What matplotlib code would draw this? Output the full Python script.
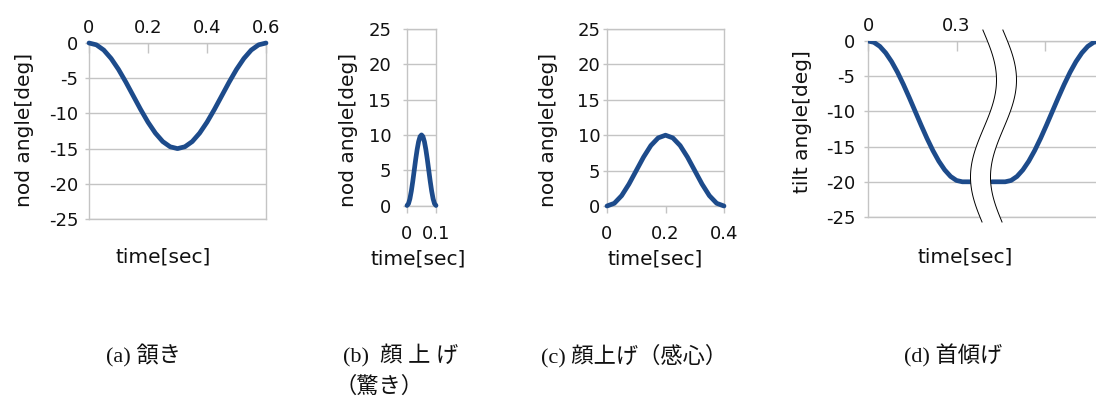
import numpy as np
import matplotlib
matplotlib.use("Agg")
import matplotlib.pyplot as plt
from matplotlib.patches import Polygon

# ---------------- data ----------------
# (a) nod
a_time = [0.0, 0.025, 0.05, 0.075, 0.1, 0.125, 0.15, 0.175, 0.2, 0.225, 0.25, 0.275, 0.3,
          0.325, 0.35, 0.375, 0.4, 0.425, 0.45, 0.475, 0.5, 0.525, 0.55, 0.575, 0.6]
a_angle = [0.0, -0.26, -1.0, -2.2, -3.75, -5.56, -7.5, -9.44, -11.25, -12.8, -14.0, -14.74, -15.0,
           -14.74, -14.0, -12.8, -11.25, -9.44, -7.5, -5.56, -3.75, -2.2, -1.0, -0.26, 0.0]
a_xticks = [0, 0.2, 0.4, 0.6]
a_xticklabels = ["0", "0.2", "0.4", "0.6"]

# (b) face up (surprise)
b_time = [0.0, 0.005, 0.01, 0.015, 0.02, 0.025, 0.03, 0.035, 0.04, 0.045, 0.05,
          0.055, 0.06, 0.065, 0.07, 0.075, 0.08, 0.085, 0.09, 0.095, 0.1]
b_angle = [0.0, 0.24, 0.95, 2.06, 3.45, 5.0, 6.55, 7.94, 9.05, 9.76, 10.0,
           9.76, 9.05, 7.94, 6.55, 5.0, 3.45, 2.06, 0.95, 0.24, 0.0]
b_xticks = [0, 0.1]
b_xticklabels = ["0", "0.1"]

# (c) face up (admiration)
c_time = [0.0, 0.025, 0.05, 0.075, 0.1, 0.125, 0.15, 0.175, 0.2,
          0.225, 0.25, 0.275, 0.3, 0.325, 0.35, 0.375, 0.4]
c_angle = [0.0, 0.38, 1.46, 3.09, 5.0, 6.91, 8.54, 9.62, 10.0,
           9.62, 8.54, 6.91, 5.0, 3.09, 1.46, 0.38, 0.0]
c_xticks = [0, 0.2, 0.4]
c_xticklabels = ["0", "0.2", "0.4"]

# (d) head tilt (axis broken between the two segments)
d_time1 = [0.0, 0.02, 0.04, 0.06, 0.08, 0.10, 0.12, 0.14, 0.16, 0.18, 0.20,
           0.22, 0.24, 0.26, 0.28, 0.30, 0.32, 0.35]
d_angle1 = [0.0, -0.19, -0.76, -1.69, -2.93, -4.44, -6.17, -8.05, -10.0, -11.95, -13.83,
            -15.56, -17.07, -18.31, -19.24, -19.81, -20.0, -20.0]
d_time2 = [0.42, 0.465, 0.485, 0.505, 0.525, 0.545, 0.565, 0.585, 0.605, 0.625, 0.645,
           0.665, 0.685, 0.705, 0.725, 0.745, 0.765, 0.785]
d_angle2 = [-20.0, -20.0, -19.81, -19.24, -18.31, -17.07, -15.56, -13.83, -11.95, -10.0, -8.05,
            -6.17, -4.44, -2.93, -1.69, -0.76, -0.19, 0.0]
d_xticks = [0, 0.3, 0.6]
d_xticklabels = ["0", "0.3", ""]

neg_yticks = [-25, -20, -15, -10, -5, 0]
pos_yticks = [0, 5, 10, 15, 20, 25]

captions = ["(a) 頷き", "(b)  顔 上 げ", "（驚き）", "(c) 顔上げ（感心）", "(d) 首傾げ"]

# ---------------- style ----------------
W, H = 1096, 398
LINE = "#1d4b8b"
GRID = "#c4c4c4"
TXT = "#111111"
TICK_FS = 13.0
LAB_FS = 14.5
LW = 3.4
plt.rcParams["font.family"] = ["DejaVu Sans"]

fig = plt.figure(figsize=(W / 100, H / 100), dpi=100)


def px_axes(x0, y0, x1, y1):
    return fig.add_axes([x0 / W, 1 - y1 / H, (x1 - x0) / W, (y1 - y0) / H])


def style(ax, yticks, ylim, xlim, xticks, xlabels, top, ypad, xpad):
    ax.set_xlim(*xlim)
    ax.set_ylim(*ylim)
    ax.set_yticks(yticks)
    ax.set_yticklabels([str(v) for v in yticks])
    ax.set_xticks(xticks)
    ax.set_xticklabels(xlabels)
    ax.yaxis.grid(True, color=GRID, linewidth=1.0)
    ax.set_axisbelow(True)
    for s in ax.spines.values():
        s.set_color(GRID)
        s.set_linewidth(1.0)
    ax.tick_params(axis="y", direction="out", length=3, width=1, color=GRID,
                   labelsize=TICK_FS, labelcolor=TXT, pad=ypad)
    if top:
        ax.xaxis.tick_top()
        ax.tick_params(axis="x", direction="in", length=7, width=1, color=GRID,
                       labelsize=TICK_FS, labelcolor=TXT, pad=xpad)
    else:
        ax.tick_params(axis="x", direction="out", length=5, width=1, color=GRID,
                       labelsize=TICK_FS, labelcolor=TXT, pad=xpad)


LKW = dict(color=LINE, lw=LW, solid_capstyle="round", solid_joinstyle="round", zorder=3)

# (a)
ax_a = px_axes(89, 43, 266, 219)
style(ax_a, neg_yticks, (-25, 0), (0, 0.6), a_xticks, a_xticklabels, True, 4.6, 4.2)
ax_a.plot(a_time, a_angle, clip_on=False, **LKW)

# (b)
ax_b = px_axes(407, 29, 436, 205.5)
style(ax_b, pos_yticks, (0, 25), (0, 0.1), b_xticks, b_xticklabels, False, 8.4, 9.0)
ax_b.plot(b_time, b_angle, clip_on=False, **LKW)

# (c)
ax_c = px_axes(607, 29, 724, 206)
style(ax_c, pos_yticks, (0, 25), (0, 0.4), c_xticks, c_xticklabels, False, 1.8, 9.0)
ax_c.plot(c_time, c_angle, clip_on=False, **LKW)

# (d)
ax_d = px_axes(868, 41, 1100, 217)
style(ax_d, neg_yticks, (-25, 0), (0, 232 / 295), d_xticks, d_xticklabels, True, 6.0, 4.5)
ax_d.plot(d_time1, d_angle1, **LKW)
ax_d.plot(d_time2, d_angle2, **LKW)

# break marks (wavy double line with white fill), in ax_d data coords
yy_px = np.linspace(30, 222, 80)
xl_px = 983.5 + 13 * np.cos(np.pi * (yy_px - 80) / 97)
xr_px = xl_px + 20
tx = lambda xp: (xp - 868) / 295
ty = lambda yp: -(yp - 41) / 176 * 25
xl, xr, yy = tx(xl_px), tx(xr_px), ty(yy_px)
poly = np.vstack([np.column_stack([xl, yy]), np.column_stack([xr[::-1], yy[::-1]])])
ax_d.add_patch(Polygon(poly, closed=True, facecolor="white", edgecolor="none",
                       zorder=5, clip_on=False))
ax_d.plot(xl, yy, color="black", lw=0.7, zorder=6, clip_on=False)
ax_d.plot(xr, yy, color="black", lw=0.7, zorder=6, clip_on=False)

# axis labels
def ftext(x, y, s, **kw):
    fig.text(x / W, 1 - y / H, s, **kw)

ftext(163, 257, "time[sec]", ha="center", va="center", fontsize=LAB_FS, color=TXT)
ftext(418, 259, "time[sec]", ha="center", va="center", fontsize=LAB_FS, color=TXT)
ftext(655, 259, "time[sec]", ha="center", va="center", fontsize=LAB_FS, color=TXT)
ftext(965, 257, "time[sec]", ha="center", va="center", fontsize=LAB_FS, color=TXT)

ftext(25, 130, "nod angle[deg]", ha="center", va="center", rotation=90, fontsize=LAB_FS, color=TXT)
ftext(348, 130, "nod angle[deg]", ha="center", va="center", rotation=90, fontsize=LAB_FS, color=TXT)
ftext(548, 130, "nod angle[deg]", ha="center", va="center", rotation=90, fontsize=LAB_FS, color=TXT)
ftext(802, 122, "tilt angle[deg]", ha="center", va="center", rotation=90, fontsize=LAB_FS, color=TXT)

# captions
CAP = dict(ha="left", va="center", fontsize=16, color=TXT,
           family=["Liberation Serif", "Noto Sans CJK JP"])
ftext(106, 356, captions[0], **CAP)
ftext(343, 356, captions[1], **CAP)
ftext(334, 387, captions[2], **CAP)
ftext(541, 356, captions[3], **CAP)
ftext(904, 356, captions[4], **CAP)

fig.savefig("out.png", dpi=100)
